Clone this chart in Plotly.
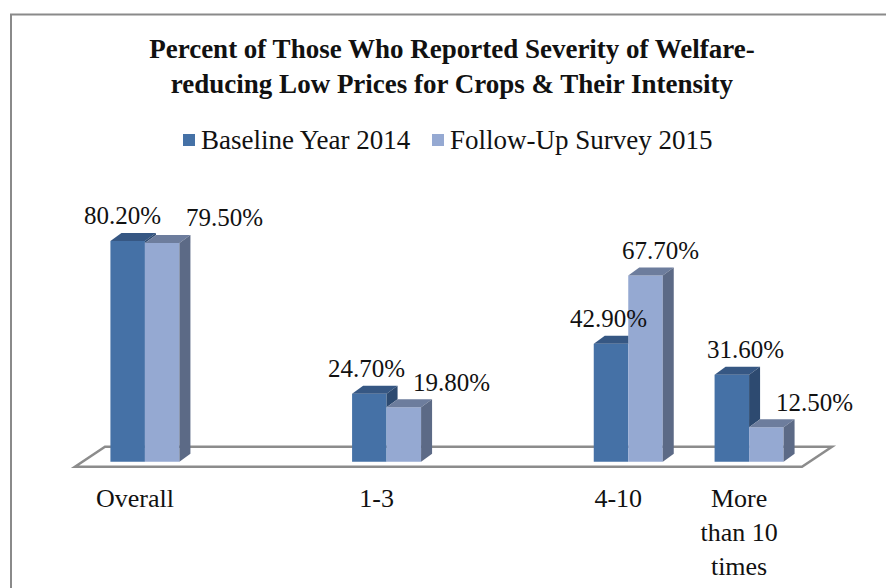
import plotly.graph_objects as go

# ---- data -------------------------------------------------------------
categories = ["Overall", "", "1-3", "", "4-10", "More than 10 times"]
tick_labels = ["Overall", "", "1-3", "", "4-10", "More<br>than 10<br>times"]
baseline_2014 = [80.2, None, 24.7, None, 42.9, 31.6]
followup_2015 = [79.5, None, 19.8, None, 67.7, 12.5]
series_names = ["Baseline Year 2014", "Follow-Up Survey 2015"]

# ---- geometry ---------------------------------------------------------
W, H = 886, 588
M_L, M_R, M_T, M_B = 60, 40, 214, 118
Y_MIN, Y_MAX = -3, 90

plot_w = W - M_L - M_R
plot_h = H - M_T - M_B
px_x = 725 / len(categories)         # pixels per category slot
px_y = plot_h / (Y_MAX - Y_MIN)      # pixels per percentage point
SLOT_LEFT = 84.5                     # pixel where the first slot starts
X_MIN = -0.5 - (SLOT_LEFT - M_L) / px_x
X_MAX = X_MIN + plot_w / px_x


def cx(px):
    return px / px_x


def cy(px):
    return px / px_y


def paper_x(px):
    return (px - M_L) / plot_w


def paper_y(py):
    return (H - M_B - py) / plot_h


BAR_W = cx(34.5)
DX, DY = cx(11), cy(8)               # oblique depth of the 3-D bars
TICK_SHIFT = cx(10)                  # category labels sit under the floor's front edge

FONT = "Liberation Serif, Times New Roman, serif"
BASE_FRONT, BASE_TOP, BASE_SIDE = "#4571A6", "#365783", "#2D4A70"
FOLL_FRONT, FOLL_TOP, FOLL_SIDE = "#95A9D2", "#6D7D9D", "#5C6A86"
FLOOR_LINE = "#8C8C8C"


def path(points):
    return "M " + " L ".join(f"{x:.5f},{y:.5f}" for x, y in points) + " Z"


shapes = []

# chart frame
shapes.append(dict(type="rect", xref="paper", yref="paper",
                   x0=paper_x(11), x1=paper_x(W + 20),
                   y0=paper_y(H + 20), y1=paper_y(14.5),
                   line=dict(color="#8A8A8A", width=2), fillcolor="rgba(0,0,0,0)",
                   layer="below"))

# floor of the 3-D plot area
n = len(categories)
f_lo, f_hi = -cy(5), cy(15)
f_left = -0.5 - cx(9.5)
f_right = n - 0.5 - cx(7.5)
floor = [(f_left, f_lo), (f_right, f_lo), (f_right + cx(30), f_hi), (f_left + cx(30), f_hi)]
shapes.append(dict(type="path", xref="x", yref="y", path=path(floor),
                   line=dict(color=FLOOR_LINE, width=2.5), fillcolor="white",
                   layer="below"))

# top and side faces of each pair of bars, back-to-front
for i, (b, f) in enumerate(zip(baseline_2014, followup_2015)):
    if b is None or f is None:
        continue
    xl, xm, xr = i - BAR_W, i, i + BAR_W
    if f <= b:
        top_b = [(xl, b), (xm, b), (xm + DX, b + DY), (xl + DX, b + DY)]
    else:
        top_b = [(xl, b), (xm, b), (xm, b + DY), (xl + DX, b + DY)]
    faces = [(top_b, BASE_TOP)]
    if b > f:
        faces.append(([(xm, f), (xm, b), (xm + DX, b + DY), (xm + DX, f + DY)], BASE_SIDE))
    faces.append(([(xm, f), (xr, f), (xr + DX, f + DY), (xm + DX, f + DY)], FOLL_TOP))
    faces.append(([(xr, 0), (xr, f), (xr + DX, f + DY), (xr + DX, DY)], FOLL_SIDE))
    for pts, col in faces:
        shapes.append(dict(type="path", xref="x", yref="y", path=path(pts),
                           line=dict(width=0), fillcolor=col, layer="above"))

# legend keys
legend_keys = [(183, BASE_FRONT), (432, FOLL_FRONT)]
for x0, col in legend_keys:
    shapes.append(dict(type="rect", xref="paper", yref="paper",
                       x0=paper_x(x0), x1=paper_x(x0 + 12),
                       y0=paper_y(146), y1=paper_y(134),
                       line=dict(width=0), fillcolor=col))

x_idx = list(range(n))

fig = go.Figure()
fig.add_trace(go.Bar(x=x_idx, y=baseline_2014, width=BAR_W, offset=-BAR_W,
                     name=series_names[0], marker=dict(color=BASE_FRONT, line=dict(width=0)),
                     hovertext=categories, showlegend=False))
fig.add_trace(go.Bar(x=x_idx, y=followup_2015, width=BAR_W, offset=0,
                     name=series_names[1], marker=dict(color=FOLL_FRONT, line=dict(width=0)),
                     hovertext=categories, showlegend=False))

# value labels (offsets keep neighbouring labels apart)
label_shift_b = [-5, 0, -3, 0, -3, 14]
label_shift_f = [62, 0, 48, 0, 15, 48]
annotations = []
for i in x_idx:
    for vals, off, shifts in ((baseline_2014, -BAR_W / 2, label_shift_b),
                              (followup_2015, BAR_W / 2, label_shift_f)):
        v = vals[i]
        if v is None:
            continue
        annotations.append(dict(x=i + off, y=v, xref="x", yref="y",
                                text=f"{v:.2f}%", showarrow=False,
                                xanchor="center", yanchor="middle",
                                xshift=shifts[i], yshift=25,
                                font=dict(family=FONT, size=25, color="#111111")))

# legend text
for (x0, _), name in zip(legend_keys, series_names):
    annotations.append(dict(x=paper_x(x0 + 16), y=paper_y(140), xref="paper", yref="paper",
                            text=name, showarrow=False, xanchor="left", yanchor="middle",
                            font=dict(family=FONT, size=27, color="#111111")))

fig.update_layout(
    width=W, height=H,
    margin=dict(l=M_L, r=M_R, t=M_T, b=M_B, autoexpand=False),
    paper_bgcolor="white", plot_bgcolor="rgba(0,0,0,0)",
    barmode="overlay",
    title=dict(text="<b>Percent of Those Who Reported Severity of Welfare-<br>"
                    "reducing Low Prices for Crops & Their Intensity</b>",
               xref="container", yref="container",
               x=452 / W, xanchor="center", y=1 - 58 / H, yanchor="middle",
               font=dict(family=FONT, size=27, color="#111111")),
    xaxis=dict(range=[X_MIN, X_MAX], tickvals=[i - TICK_SHIFT for i in x_idx],
               ticktext=tick_labels,
               showgrid=False, zeroline=False, showline=False, ticks="",
               ticklabelstandoff=10,
               tickfont=dict(family=FONT, size=26, color="#111111")),
    yaxis=dict(range=[Y_MIN, Y_MAX], visible=False),
    shapes=shapes,
    annotations=annotations,
)

fig.write_html("out.html")
